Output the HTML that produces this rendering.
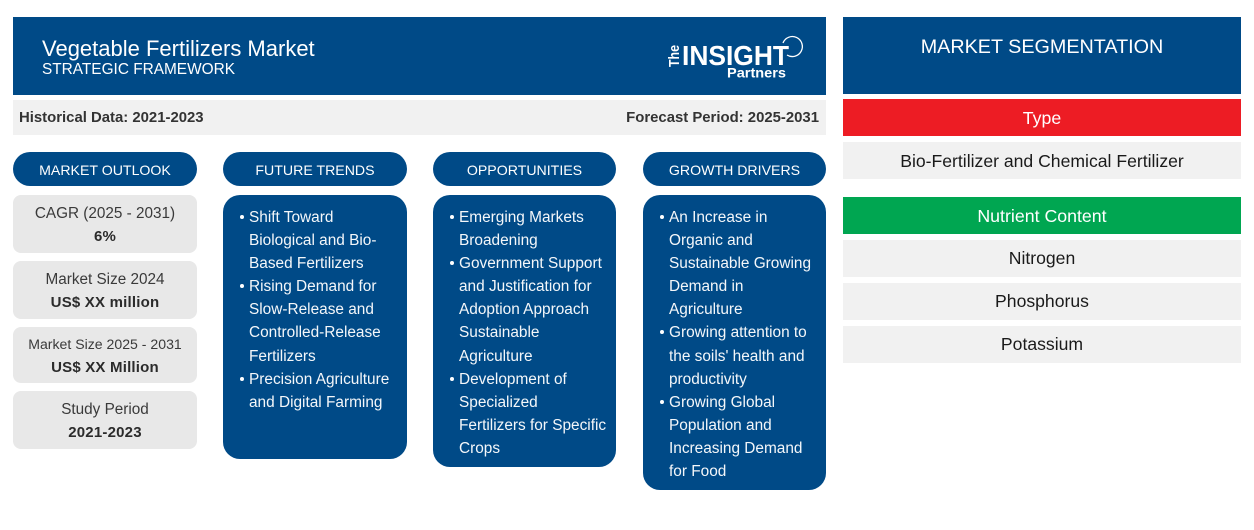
<!DOCTYPE html>
<html lang="en">
<head>
<meta charset="utf-8">
<title>Vegetable Fertilizers Market - Strategic Framework</title>
<style>
html,body{margin:0;padding:0;background:#fff}
#page{position:relative;width:1254px;height:530px;overflow:hidden;background:#fff;font-family:"Liberation Sans",Arial,sans-serif}
#page div{position:absolute;box-sizing:border-box}
#page span.t{position:absolute;white-space:nowrap}
.blue{background:#004a87;color:#fff}
.pill{top:152px;height:34px;border-radius:17px;background:#004a87;color:#fff;font-size:14.15px;line-height:36px;text-align:center}
.stat{left:13px;width:184px;background:#e8e8e8;border-radius:8px;text-align:center;color:#3a3a3a;font-size:15.3px;line-height:23.1px}
.stat b{color:#2b2b2b;font-size:15px;letter-spacing:.2px}
.panel{top:195px;background:#004a87;border-radius:17px;color:#f4f7fa;font-size:15.4px;line-height:23.1px}
.panel ul{margin:0;padding:0;list-style:none;position:absolute;left:26px;top:11px;white-space:nowrap}
.panel li{position:relative}
.panel li::before{content:"";position:absolute;left:-9px;top:9px;width:4px;height:4px;border-radius:50%;background:#fff}
.seg{left:843px;width:398px;text-align:center}
.head{height:37px;color:#fff;font-size:17.75px;line-height:39px}
.item{height:37px;background:#f1f1f1;color:#1a1a1a;font-size:17.6px;line-height:37px}
</style>
</head>
<body>
<div id="page">

<div class="blue" style="left:13px;top:17px;width:813px;height:78px">
  <span class="t" style="left:29px;top:19px;font-size:22px;line-height:26px">Vegetable Fertilizers Market</span>
  <span class="t" style="left:29px;top:44px;font-size:15.4px;line-height:18px">STRATEGIC FRAMEWORK</span>
  <svg style="position:absolute;left:640px;top:10px" width="160" height="66" viewBox="0 0 160 66">
    <text x="0" y="0" transform="translate(26 40)  rotate(-90)" font-family="Liberation Sans, sans-serif" font-size="14.5" font-weight="bold" fill="#fff" textLength="22" lengthAdjust="spacingAndGlyphs">The</text>
    <text x="29" y="38" font-family="Liberation Sans, sans-serif" font-size="28" font-weight="bold" fill="#fff" textLength="107" lengthAdjust="spacingAndGlyphs">INSIGHT</text>
    <text x="74" y="50.5" font-family="Liberation Sans, sans-serif" font-size="14" font-weight="bold" fill="#fff" textLength="59" lengthAdjust="spacingAndGlyphs">Partners</text>
    <path d="M130 16 A10 10 0 1 1 134 28" fill="none" stroke="#fff" stroke-width="1.3"/>
  </svg>
</div>

<div style="left:13px;top:100px;width:813px;height:35px;background:#f1f1f1;color:#333;font-size:14.9px;font-weight:bold;line-height:35px">
  <span class="t" style="left:6px;top:1px">Historical Data: 2021-2023</span>
  <span class="t" style="right:7px;top:1px">Forecast Period: 2025-2031</span>
</div>

<div class="pill" style="left:13px;width:184px">MARKET OUTLOOK</div>
<div class="pill" style="left:223px;width:184px">FUTURE TRENDS</div>
<div class="pill" style="left:433px;width:183px">OPPORTUNITIES</div>
<div class="pill" style="left:643px;width:183px">GROWTH DRIVERS</div>

<div class="stat" style="top:195px;height:58px;padding-top:7px">CAGR (2025 - 2031)<br><b>6%</b></div>
<div class="stat" style="top:261px;height:58px;padding-top:7px">Market Size 2024<br><b>US$ XX million</b></div>
<div class="stat" style="top:327px;height:56px;padding-top:6px;font-size:14.1px">Market Size 2025 - 2031<br><b>US$ XX Million</b></div>
<div class="stat" style="top:391px;height:58px;padding-top:7px">Study Period<br><b>2021-2023</b></div>

<div class="panel" style="left:223px;width:184px;height:264px">
  <ul>
    <li>Shift Toward<br>Biological and Bio-<br>Based Fertilizers</li>
    <li>Rising Demand for<br>Slow-Release and<br>Controlled-Release<br>Fertilizers</li>
    <li>Precision Agriculture<br>and Digital Farming</li>
  </ul>
</div>
<div class="panel" style="left:433px;width:183px;height:272px">
  <ul>
    <li>Emerging Markets<br>Broadening</li>
    <li>Government Support<br>and Justification for<br>Adoption Approach<br>Sustainable<br>Agriculture</li>
    <li>Development of<br>Specialized<br>Fertilizers for Specific<br>Crops</li>
  </ul>
</div>
<div class="panel" style="left:643px;width:183px;height:295px">
  <ul>
    <li>An Increase in<br>Organic and<br>Sustainable Growing<br>Demand in<br>Agriculture</li>
    <li>Growing attention to<br>the soils' health and<br>productivity</li>
    <li>Growing Global<br>Population and<br>Increasing Demand<br>for Food</li>
  </ul>
</div>

<div class="seg blue" style="top:17px;height:77px;font-size:19.75px;line-height:60px">MARKET SEGMENTATION</div>
<div class="seg head" style="top:99px;background:#ed1c24">Type</div>
<div class="seg item" style="top:142px;line-height:38px">Bio-Fertilizer and Chemical Fertilizer</div>
<div class="seg head" style="top:197px;background:#00a651">Nutrient Content</div>
<div class="seg item" style="top:240px">Nitrogen</div>
<div class="seg item" style="top:283px">Phosphorus</div>
<div class="seg item" style="top:326px">Potassium</div>

</div>
</body>
</html>
